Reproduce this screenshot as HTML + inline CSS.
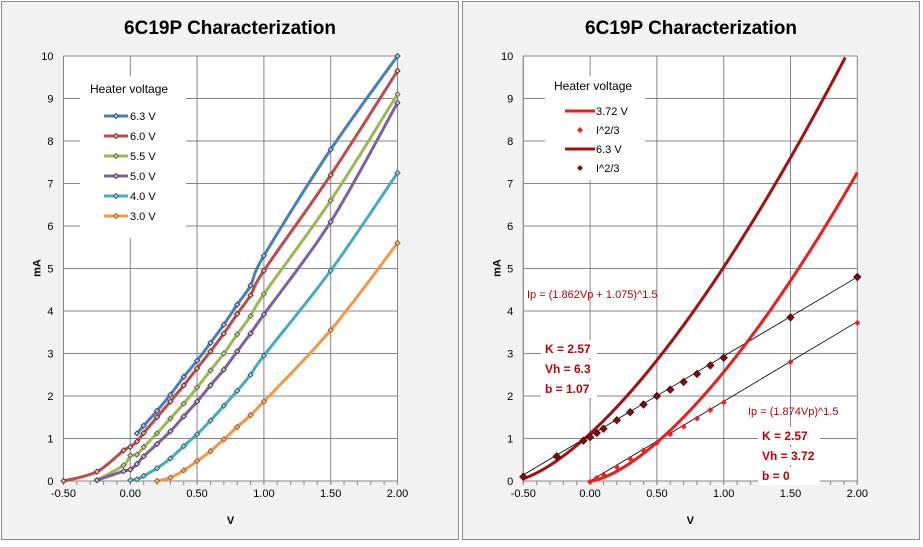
<!DOCTYPE html>
<html><head><meta charset="utf-8"><style>
body{margin:0;background:#fff;width:923px;height:542px;overflow:hidden;font-family:"Liberation Sans",sans-serif}
svg text{font-family:"Liberation Sans",sans-serif}
</style></head><body>
<svg id="c" width="923" height="542" xmlns="http://www.w3.org/2000/svg"></svg>
<script>
const xs = [-0.5,-0.25,-0.05,0,0.05,0.1,0.2,0.3,0.4,0.5,0.6,0.7,0.8,0.9,1.0,1.5,2.0];
const seriesNames = ["6.3 V","6.0 V","5.5 V","5.0 V","4.0 V","3.0 V"];
const s63 = [null,null,null,null,1.12,1.3,1.65,2.03,2.45,2.83,3.25,3.68,4.15,4.6,5.3,7.8,10.0];
const s60 = [0,0.22,0.72,0.8,0.93,1.13,1.5,1.87,2.25,2.65,3.05,3.47,3.93,4.37,4.95,7.2,9.65];
const s55 = [null,0.02,0.37,0.6,0.62,0.8,1.12,1.47,1.82,2.2,2.6,3.0,3.45,3.88,4.4,6.6,9.1];
const s50 = [null,0.02,0.23,0.27,0.4,0.58,0.87,1.17,1.52,1.87,2.25,2.62,3.05,3.47,3.92,6.1,8.9];
const s40 = [null,null,null,0.02,0.04,0.12,0.3,0.53,0.82,1.1,1.42,1.77,2.12,2.5,2.95,4.95,7.25];
const s30 = [null,null,null,null,null,null,0.0,0.08,0.25,0.47,0.7,0.98,1.27,1.55,1.87,3.55,5.6];
const i23_63 = [0.1,0.58,0.95,1.03,1.13,1.23,1.43,1.62,1.8,2.0,2.15,2.33,2.52,2.72,2.9,3.85,4.8];
const i23_372 = [null,null,null,-0.02,0.07,0.15,0.33,0.52,0.72,0.9,1.1,1.28,1.47,1.67,1.85,2.8,3.72];
const fitSlope = [1.862,1.874];
const fitIntercept = [1.075,0];
const xTicks = ["-0.50","0.00","0.50","1.00","1.50","2.00"];
const yTicks = [0,1,2,3,4,5,6,7,8,9,10];

const svg=document.getElementById('c');const NS="http://www.w3.org/2000/svg";
function mk(t,a,p){const e=document.createElementNS(NS,t);for(const k in a)e.setAttribute(k,a[k]);(p||svg).appendChild(e);return e;}
function txt(s,a,p){const e=mk('text',a,p);e.textContent=s;return e;}

function panel(ox,pl,name){
  const g=mk('g',{});
  
  
  const bg=mk('rect',{x:ox+1.5,y:1.5,width:457,height:538,fill:'#f2f2f2',stroke:'#8c8c8c','stroke-width':1},g);
  
  
  const L=pl,R=pl+334,T=56,B=481;
  const X=v=>L+(v+0.5)*(R-L)/2.5, Y=v=>B-v*(B-T)/10;
  const pa=mk('rect',{x:L,y:T,width:R-L,height:B-T,fill:'#fff'},g);
  
  
  yTicks.forEach(v=>{mk('line',{x1:L,x2:R,y1:Y(v),y2:Y(v),stroke:'#868686','stroke-width':1},g);
    const t=txt(String(v),{x:L-10,y:Y(v)+4,'font-size':11,'text-anchor':'end',fill:'#000'},g);
    });
  xTicks.forEach(s=>{const v=parseFloat(s);mk('line',{x1:X(v),x2:X(v),y1:T,y2:B+4,stroke:'#868686','stroke-width':1},g);
    const t=txt(s,{x:X(v),y:B+16,'font-size':11,'text-anchor':'middle',fill:'#000'},g);
    });
  for(let i=0;i<=25;i++){const x=L+i*(R-L)/25;mk('line',{x1:x,x2:x,y1:B,y2:B+4,stroke:'#868686'},g);}
  mk('line',{x1:L,x2:L,y1:T,y2:B,stroke:'#868686'},g);
  const tt=txt('6C19P Characterization',{x:ox+230,y:34,'font-size':19,'font-weight':'bold','text-anchor':'middle',fill:'#000'},g);
  
  const yt=txt('mA',{x:0,y:0,'font-size':11,'font-weight':'bold','text-anchor':'middle',transform:`translate(${pl-23},268) rotate(-90)`},g);
  
  const xt=txt('V',{x:(L+R)/2,y:524,'font-size':11,'font-weight':'bold','text-anchor':'middle'},g);
  
  return {g,X,Y,L,R,T,B};
}
function path(P,vals,col,w,name){
  const pts=[];vals.forEach((v,i)=>{if(v!=null)pts.push([P.X(xs[i]),P.Y(v)]);});
  let d='M'+pts[0][0]+','+pts[0][1];
  const t=0.5/3;
  for(let i=0;i<pts.length-1;i++){
    const p0=pts[i-1]||pts[i],p1=pts[i],p2=pts[i+1],p3=pts[i+2]||pts[i+1];
    const c1=[p1[0]+(p2[0]-p0[0])*t,p1[1]+(p2[1]-p0[1])*t];
    const c2=[p2[0]-(p3[0]-p1[0])*t,p2[1]-(p3[1]-p1[1])*t];
    d+=`C${c1[0]},${c1[1]} ${c2[0]},${c2[1]} ${p2[0]},${p2[1]}`;
  }
  const e=mk('path',{d,fill:'none',stroke:col,'stroke-width':w,'stroke-linejoin':'round'},P.g);
  
}
function diamond(P,x,y,r,fill,stroke,name){
  const e=mk('path',{d:`M${x},${y-r}L${x+r},${y}L${x},${y+r}L${x-r},${y}Z`,fill,stroke:stroke||'none','stroke-width':1},P.g);
  
}

// left panel
const A=panel(0,63.5,'left-panel');
const cols=['#4a7ebb','#be4b48','#98b954','#7d60a0','#46aac5','#f79646'];
const dark=['#2c4d75','#772c2a','#5f7530','#4d3b62','#276a7c','#b65708'];
const sets=[s63,s60,s55,s50,s40,s30];
const lg=mk('rect',{x:80,y:76,width:106,height:162,fill:'#fff'},A.g);

txt('Heater voltage',{x:90,y:93,'font-size':12},A.g);
sets.forEach((s,k)=>{
  path(A,s,cols[k],3,'series-'+seriesNames[k].replace(/[ .]/g,''));
  s.forEach((v,i)=>{if(v!=null)diamond(A,A.X(xs[i]),A.Y(v),2.5,'#c8c8c8',dark[k],'point');});
  const y=116+k*20;
  const l=mk('line',{x1:104,x2:128,y1:y,y2:y,stroke:cols[k],'stroke-width':3},A.g);
  
  diamond(A,116,y,2.5,'#c8c8c8',dark[k],'legend-marker');
  txt(seriesNames[k],{x:130,y:y+4,'font-size':11},A.g);
});

// right panel
const B=panel(461,523.3,'right-panel');
const lg2=mk('rect',{x:545,y:76,width:100,height:104,fill:'#fff'},B.g);

[[i23_63,0],[i23_372,1]].forEach(([arr,k])=>{
  const x0=k==0?-0.5:0;
  const e=mk('line',{x1:B.X(x0),y1:B.Y(fitSlope[k]*x0+fitIntercept[k]),x2:B.X(2),y2:B.Y(fitSlope[k]*2+fitIntercept[k]),stroke:'#000','stroke-width':0.8},B.g);
  
});
const curveCols=['#a50f0f','#ee1c1c'];
[0,1].forEach(k=>{
  const x0=k==0?-0.5:0;let d='';
  for(let v=x0;v<=2.0001;v+=0.01){const b=fitSlope[k]*v+fitIntercept[k];if(b<0)continue;const I=Math.pow(b,1.5);if(I>10)break;d+=(d?'L':'M')+B.X(v)+','+B.Y(I);}
  const e=mk('path',{d,fill:'none',stroke:curveCols[k],'stroke-width':3},B.g);
  
});
i23_63.forEach((v,i)=>{if(v!=null)diamond(B,B.X(xs[i]),B.Y(v),3.5,'#7a1010','#5a0a0a','point-i23-6-3V');});
i23_372.forEach((v,i)=>{if(v!=null)diamond(B,B.X(xs[i]),B.Y(v),3,'#ee2020','none','point-i23-3-72V');});
txt('Heater voltage',{x:554,y:90,'font-size':12},B.g);
const le=[['3.72 V','#ee1c1c',111,0],['I^2/3','#ee2020',130,1],['6.3 V','#a50f0f',149,0],['I^2/3','#7a1010',168,1]];
le.forEach(([s,c,y,m])=>{
  if(!m){const l=mk('line',{x1:565,x2:595,y1:y,y2:y,stroke:c,'stroke-width':3},B.g);}
  else{diamond(B,580,y,3,c,'none','legend-marker');}
  txt(s,{x:596,y:y+4,'font-size':11},B.g);
});
const red='#c00000';
txt('Ip = (1.862Vp + 1.075)^1.5',{x:527,y:298,'font-size':11,fill:red},B.g);
[['K = 2.57',353],['Vh = 6.3',373],['b = 1.07',393]].forEach(([s,y])=>{mk('rect',{x:541,y:y-13,width:56,height:18,fill:'#fff'},B.g);txt(s,{x:545,y,'font-size':12,'font-weight':'bold',fill:red},B.g);});
txt('Ip = (1.874Vp)^1.5',{x:748,y:415,'font-size':11,fill:red},B.g);
[['K = 2.57',440],['Vh = 3.72',460],['b = 0',480]].forEach(([s,y])=>{mk('rect',{x:758,y:y-13,width:62,height:18,fill:'#fff'},B.g);txt(s,{x:762,y,'font-size':12,'font-weight':'bold',fill:red},B.g);});
</script>
</body></html>
